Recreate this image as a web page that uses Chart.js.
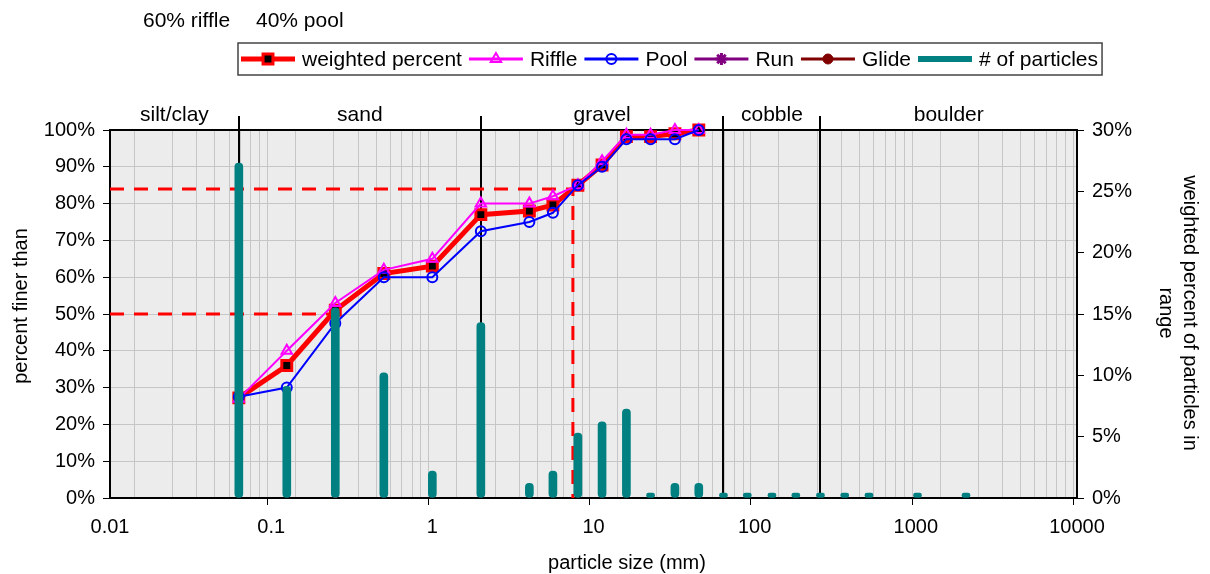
<!DOCTYPE html>
<html>
<head>
<meta charset="utf-8">
<script src="https://cdn.jsdelivr.net/npm/chart.js@4.4.1/dist/chart.umd.min.js"></script>
<style>
  html, body { margin: 0; padding: 0; background: #fff; }
  #wrap { width: 1210px; height: 574px; position: relative; }
</style>
</head>
<body>
<div id="wrap"><canvas id="grainChart"></canvas></div>
<script>
// cumulative curves (percent finer than)
const sizes    = [0.063, 0.125, 0.25, 0.5, 1, 2, 4, 5.6, 8, 11.3, 16, 22.6, 32, 45];
const weighted = [27.2, 36, 51, 61, 63, 77, 78, 79.6, 85, 90.5, 98.2, 98.2, 99, 100];
const riffle   = [27, 40, 53, 62, 65, 80, 80, 82, 85, 91.5, 98.7, 98.7, 100, 100];
const pool     = [27.5, 30, 47.5, 60, 60, 72.5, 75, 77.5, 85, 90, 97.5, 97.5, 97.5, 100];
const run      = [];
const glide    = [];

// weighted percent of particles in each size class (right axis)
const binSizes  = [0.063, 0.125, 0.25, 0.5, 1, 2, 4, 5.6, 8, 11.3, 16, 22.6, 32, 45, 64, 90, 128, 180, 256, 362, 512, 1024, 2048];
const particles = [27.3, 9.1, 15.5, 10.2, 2.2, 14.3, 1.2, 2.2, 5.3, 6.2, 7.25, 0, 1.2, 1.2, 0, 0, 0, 0, 0, 0, 0, 0, 0];

// size classes along the top
const classNames = ['silt/clay', 'sand', 'gravel', 'cobble', 'boulder'];
const classEdges = [0.01, 0.063, 2, 64, 256, 10000];

// D50 / D84 guide lines
const d50 = 0.25, d84 = 7.45;

const xDecades = [0.01, 0.1, 1, 10, 100, 1000, 10000];

const FONT = '"Liberation Sans", Arial, sans-serif';

function isDecade(v) {
    const l = Math.log10(v);
    return Math.abs(l - Math.round(l)) < 1e-6;
}

function xy(xs, ys) {
    return ys.map((y, i) => ({ x: xs[i], y: y }));
}

const legendItems = [0, 1, 2, 3, 4, 5];

const decor = {
    id: 'decor',
    beforeDraw(chart) {
        const { ctx, chartArea: a } = chart;
        ctx.save();
        ctx.fillStyle = '#ececec';
        ctx.fillRect(a.left, a.top, a.right - a.left, a.bottom - a.top);
        ctx.restore();
    },
    beforeDatasetsDraw(chart) {
        const { ctx, chartArea: a } = chart;
        const xs = chart.scales.x;
        ctx.save();
        ctx.strokeStyle = '#000';
        ctx.lineWidth = 2;
        for (let i = 1; i < classEdges.length - 1; i++) {
            const px = Math.round(xs.getPixelForValue(classEdges[i]));
            ctx.beginPath();
            ctx.moveTo(px, a.top - 14);
            ctx.lineTo(px, a.bottom);
            ctx.stroke();
        }
        // frame drawn under the marks so the top points stay visible
        ctx.strokeRect(a.left, a.top, a.right - a.left, a.bottom - a.top);
        ctx.restore();
    },
    afterDraw(chart) {
        const { ctx, chartArea: a } = chart;
        const xs = chart.scales.x;
        ctx.save();

        // class names
        ctx.fillStyle = '#000';
        ctx.font = '21px ' + FONT;
        ctx.textAlign = 'center';
        ctx.textBaseline = 'alphabetic';
        for (let i = 0; i < classNames.length; i++) {
            const l = xs.getPixelForValue(classEdges[i]);
            const r = xs.getPixelForValue(classEdges[i + 1]);
            ctx.fillText(classNames[i], (l + r) / 2, a.top - 9);
        }

        // note at the very top
        ctx.textAlign = 'left';
        ctx.fillText('60% riffle', 143, 27);
        ctx.fillText('40% pool', 256, 27);

        // axis titles
        ctx.font = '20px ' + FONT;
        ctx.textAlign = 'center';
        ctx.fillText('particle size (mm)', 627, 569);

        ctx.save();
        ctx.translate(27, 306);
        ctx.rotate(-Math.PI / 2);
        ctx.fillText('percent finer than', 0, 0);
        ctx.restore();

        ctx.save();
        ctx.translate(1184, 313);
        ctx.rotate(Math.PI / 2);
        ctx.fillText('weighted percent of particles in', 0, 0);
        ctx.fillText('range', 0, 24);
        ctx.restore();

        drawLegend(chart);
        ctx.restore();
    }
};

function drawLegend(chart) {
    const ctx = chart.ctx;
    const top = 43, h = 32, left = 238;
    const cy = top + h / 2;
    const sampleW = 54;
    ctx.font = '21px ' + FONT;
    ctx.textBaseline = 'middle';
    ctx.textAlign = 'left';
    let x = left + 3;
    const spans = [];
    legendItems.forEach(idx => {
        const ds = chart.data.datasets[idx];
        const tw = ctx.measureText(ds.label).width;
        spans.push({ ds, x, tw });
        x += sampleW + 7 + tw + 7;
    });
    const right = Math.max(x - 3, 1101);
    ctx.fillStyle = '#fff';
    ctx.fillRect(left, top, right - left, h);
    ctx.strokeStyle = '#444';
    ctx.lineWidth = 1.5;
    ctx.strokeRect(left, top, right - left, h);

    spans.forEach(s => {
        const ds = s.ds;
        ctx.save();
        ctx.strokeStyle = ds.borderColor;
        ctx.lineWidth = ds.legendLineWidth || ds.borderWidth;
        ctx.beginPath();
        ctx.moveTo(s.x, cy);
        ctx.lineTo(s.x + sampleW, cy);
        ctx.stroke();
        if (ds.pointStyle && ds.pointRadius > 0) {
            ctx.fillStyle = ds.pointBackgroundColor;
            ctx.strokeStyle = ds.pointBorderColor;
            ctx.lineWidth = ds.pointBorderWidth;
            Chart.helpers.drawPoint(ctx, {
                pointStyle: ds.pointStyle,
                rotation: 0,
                radius: ds.pointRadius,
                borderWidth: ds.pointBorderWidth
            }, s.x + sampleW / 2, cy);
        }
        ctx.restore();
        ctx.fillStyle = '#000';
        ctx.fillText(ds.label, s.x + sampleW + 7, cy + 1);
    });
}

const ctx = document.getElementById('grainChart').getContext('2d');

new Chart(ctx, {
    type: 'line',
    data: {
        datasets: [
            {
                label: 'weighted percent',
                data: xy(sizes, weighted),
                borderColor: '#ff0000',
                borderWidth: 5,
                pointStyle: 'rect',
                pointRadius: 7,
                pointBorderWidth: 3,
                pointBorderColor: '#ff0000',
                pointBackgroundColor: '#000',
                clip: false,
                yAxisID: 'y',
                order: 4
            },
            {
                label: 'Riffle',
                data: xy(sizes, riffle),
                borderColor: '#ff00ff',
                borderWidth: 2,
                legendLineWidth: 3,
                pointStyle: 'triangle',
                pointRadius: 6,
                pointBorderWidth: 2,
                pointBorderColor: '#ff00ff',
                pointBackgroundColor: 'rgba(0,0,0,0)',
                clip: false,
                yAxisID: 'y',
                order: 3
            },
            {
                label: 'Pool',
                data: xy(sizes, pool),
                borderColor: '#0000ff',
                borderWidth: 2,
                legendLineWidth: 3,
                pointStyle: 'circle',
                pointRadius: 5,
                pointBorderWidth: 2,
                pointBorderColor: '#0000ff',
                pointBackgroundColor: 'rgba(0,0,0,0)',
                clip: false,
                yAxisID: 'y',
                order: 2
            },
            {
                label: 'Run',
                data: xy(sizes, run),
                borderColor: '#800080',
                borderWidth: 2,
                legendLineWidth: 3,
                pointStyle: 'star',
                pointRadius: 6,
                pointBorderWidth: 3,
                pointBorderColor: '#800080',
                pointBackgroundColor: '#800080',
                yAxisID: 'y',
                order: 2
            },
            {
                label: 'Glide',
                data: xy(sizes, glide),
                borderColor: '#800000',
                borderWidth: 2,
                legendLineWidth: 3,
                pointStyle: 'circle',
                pointRadius: 5,
                pointBorderWidth: 1,
                pointBorderColor: '#800000',
                pointBackgroundColor: '#800000',
                yAxisID: 'y',
                order: 2
            },
            {
                type: 'bar',
                label: '# of particles',
                data: xy(binSizes, particles),
                backgroundColor: '#008080',
                borderColor: '#008080',
                borderWidth: 0,
                legendLineWidth: 6,
                barThickness: 8,
                borderRadius: 4,
                borderSkipped: false,
                minBarLength: 5,
                yAxisID: 'y2',
                order: 0
            },
            {
                label: 'D84',
                data: [{ x: 0.01, y: 84 }, { x: d84, y: 84 }, { x: d84, y: 0 }],
                borderColor: '#ff0000',
                borderWidth: 3,
                borderDash: [14, 10],
                pointRadius: 0,
                yAxisID: 'y',
                order: 5
            },
            {
                label: 'D50',
                data: [{ x: 0.01, y: 50 }, { x: d50, y: 50 }, { x: d50, y: 0 }],
                borderColor: '#ff0000',
                borderWidth: 3,
                borderDash: [14, 10],
                pointRadius: 0,
                yAxisID: 'y',
                order: 5
            }
        ]
    },
    options: {
        responsive: true,
        maintainAspectRatio: false,
        animation: false,
        layout: { padding: { top: 130, left: 0, right: 0, bottom: 0 } },
        plugins: {
            legend: { display: false },
            tooltip: { enabled: false }
        },
        scales: {
            x: {
                type: 'logarithmic',
                min: 0.01,
                max: 10000,
                afterBuildTicks: function(scale) {
                    const t = [];
                    xDecades.forEach(d => {
                        if (d === 10000) { t.push({ value: d }); return; }
                        for (let k = 1; k <= 9; k++) t.push({ value: k * d });
                    });
                    scale.ticks = t;
                },
                afterFit: function(scale) { scale.height = 76; },
                ticks: {
                    autoSkip: false,
                    maxRotation: 0,
                    padding: 10,
                    color: '#000',
                    font: { family: FONT, size: 20 },
                    callback: function(value) {
                        return isDecade(value) ? String(value) : '';
                    }
                },
                grid: {
                    color: '#c6c6c6',
                    lineWidth: 1,
                    tickLength: 7,
                    tickColor: function(c) {
                        return c.tick && isDecade(c.tick.value) ? '#000' : 'rgba(0,0,0,0)';
                    }
                },
                border: { color: '#000', width: 2 }
            },
            y: {
                position: 'left',
                min: 0,
                max: 100,
                afterFit: function(scale) { scale.width = 110; },
                ticks: {
                    stepSize: 10,
                    padding: 8,
                    color: '#000',
                    font: { family: FONT, size: 20 },
                    callback: v => v + '%'
                },
                grid: {
                    color: '#c6c6c6',
                    tickLength: 7,
                    tickColor: '#000'
                },
                border: { color: '#000', width: 2 }
            },
            y2: {
                position: 'right',
                min: 0,
                max: 30,
                afterFit: function(scale) { scale.width = 133; },
                ticks: {
                    stepSize: 5,
                    padding: 8,
                    color: '#000',
                    font: { family: FONT, size: 20 },
                    callback: v => v + '%'
                },
                grid: {
                    drawOnChartArea: false,
                    tickLength: 7,
                    tickColor: '#000'
                },
                border: { color: '#000', width: 2 }
            }
        }
    },
    plugins: [decor]
});
</script>
</body>
</html>
